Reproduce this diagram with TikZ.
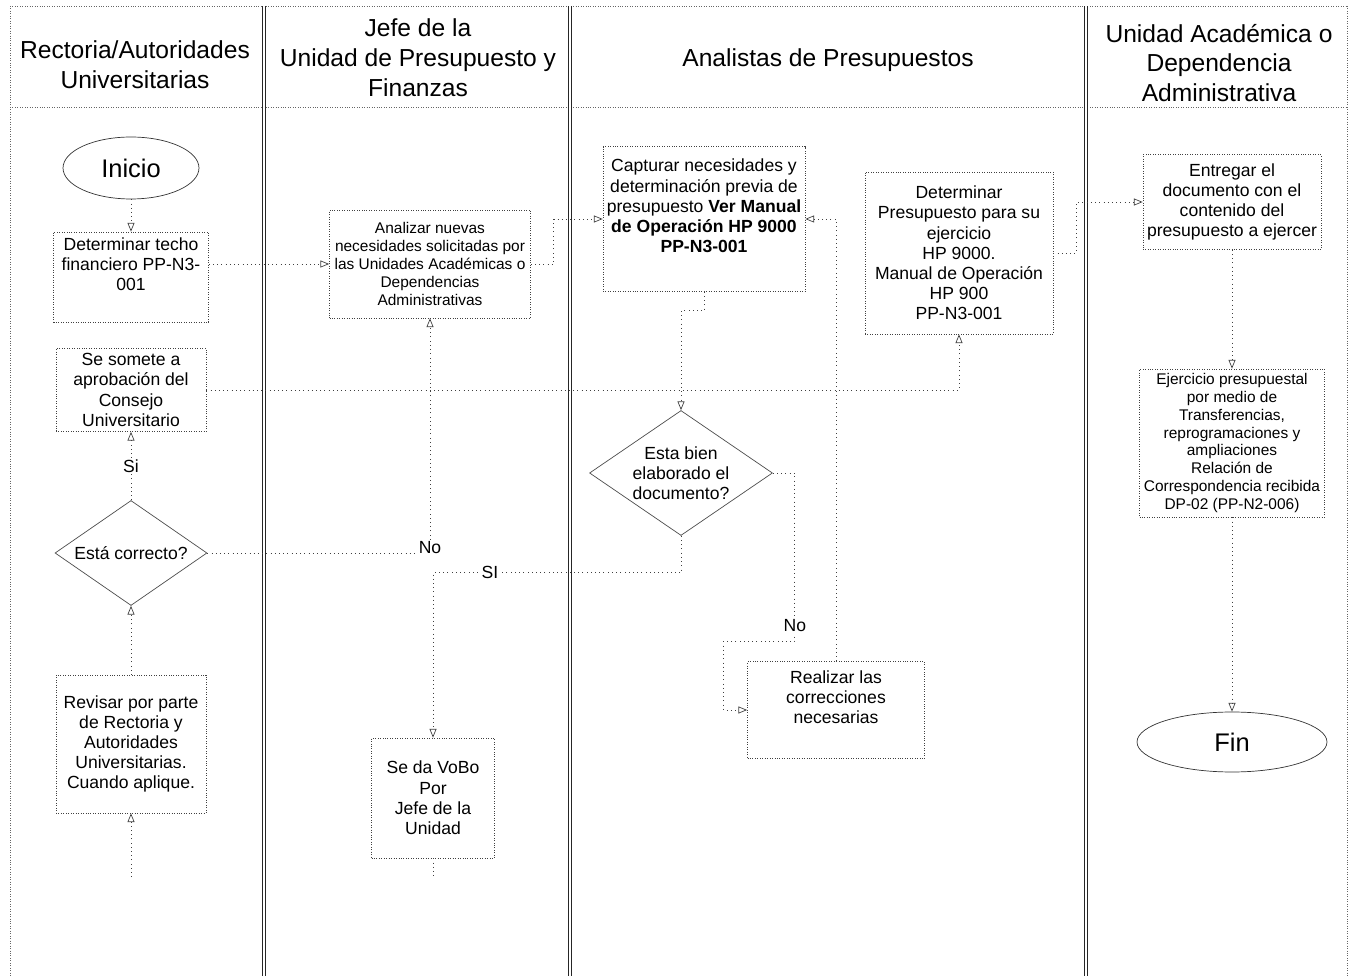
\documentclass[tikz,border=0pt]{standalone}
\usepackage{fontspec}
\setmainfont{Liberation Sans}
\usepackage{tikz}
\usetikzlibrary{shapes.geometric,arrows.meta}

\begin{document}
\begin{tikzpicture}[x=0.02cm,y=-0.02cm,
    caja/.style={draw=black!75,densely dotted,align=center,inner sep=2pt,font=\fontsize{10}{11.5}\selectfont},
    chica/.style={caja,font=\fontsize{8.8}{10.2}\selectfont},
    termino/.style={draw=black!80,ellipse,font=\fontsize{14.5}{17}\selectfont},
    decision/.style={draw=black!70,diamond,aspect=1.45,inner sep=0pt,align=center,font=\fontsize{10}{11.5}\selectfont},
    flecha/.style={draw=black!75,dotted,-{Triangle[open,length=5pt,width=4pt]}},
    linea/.style={draw=black!75,dotted},
    etiq/.style={fill=white,inner sep=1pt,font=\fontsize{10}{12}\selectfont},
    carril/.style={draw=black!85,double=white,double distance=0.6pt,line width=0.6pt},
    borde/.style={draw=black!60,densely dotted},
    titulo/.style={align=center,font=\fontsize{14}{17}\selectfont}]
  \useasboundingbox (0,0) rectangle (1357,976);

  \draw[borde] (10,6) -- (1347,6);
  \draw[borde] (10,107) -- (1347,107);
  \draw[borde] (10,6) -- (10,976);
  \draw[borde] (1347,6) -- (1347,976);
  \foreach \x in {264,570,1086}
    \draw[carril] (\x,6) -- (\x,976);

  \node[titulo] (tRect) at (135,65) {Rectoria/Autoridades\\Universitarias};
  \node[titulo] (tJefe) at (418,58) {Jefe de la\\Unidad de Presupuesto y\\Finanzas};
  \node[titulo] (tAnal) at (828,60) {Analistas de Presupuestos};
  \node[titulo] (tUnid) at (1219,63) {Unidad Académica o\\Dependencia\\Administrativa};

  \node[termino,minimum width=2.72cm,minimum height=1.24cm] (inicio) at (131,168) {Inicio};
  \node[caja,minimum width=3.1cm,minimum height=1.8cm] (techo) at (131,277) {Determinar techo\\financiero PP-N3-\\001\\\strut};
  \node[caja,minimum width=3cm,minimum height=1.66cm] (somete) at (131,390) {Se somete a\\aprobación del\\Consejo\\Universitario};
  \node[decision,minimum width=3.04cm,minimum height=2.1cm] (correcto) at (131,553) {Está correcto?};
  \node[caja,minimum width=3cm,minimum height=2.76cm] (revisar) at (131,744) {Revisar por parte\\de Rectoria y\\Autoridades\\Universitarias.\\Cuando aplique.};
  \coordinate (entradaA) at (131,877);

  \node[chica,minimum width=4.02cm,minimum height=2.16cm] (analizar) at (430,264) {Analizar nuevas\\necesidades solicitadas por\\las Unidades Académicas o\\Dependencias\\Administrativas};
  \node[caja,minimum width=2.46cm,minimum height=2.4cm] (vobo) at (433,798) {Se da VoBo\\Por\\Jefe de la\\Unidad};
  \coordinate (salidaB) at (433,876);

  \node[caja,minimum width=4.04cm,minimum height=2.9cm] (capturar) at (704,219) {Capturar necesidades y\\determinación previa de\\presupuesto \textbf{Ver Manual}\\\textbf{de Operación HP 9000}\\\textbf{PP-N3-001}\\\strut};
  \node[caja,minimum width=3.76cm,minimum height=3.24cm] (detpres) at (959,253) {Determinar\\Presupuesto para su\\ejercicio\\HP 9000.\\Manual de Operación\\HP 900\\PP-N3-001};
  \node[decision,minimum width=3.66cm,minimum height=2.5cm] (bien) at (681,473) {Esta bien\\elaborado el\\documento?};
  \node[caja,minimum width=3.54cm,minimum height=1.94cm] (realizar) at (836,710) {Realizar las\\correcciones\\necesarias\\\strut};

  \node[caja,minimum width=3.56cm,minimum height=1.9cm] (entregar) at (1232,202) {Entregar el\\documento con el\\contenido del\\presupuesto a ejercer};
  \node[chica,minimum width=3.7cm,minimum height=2.96cm] (ejercicio) at (1232,443) {Ejercicio presupuestal\\por medio de\\Transferencias,\\reprogramaciones y\\ampliaciones\\Relación de\\Correspondencia recibida\\DP-02 (PP-N2-006)};
  \node[termino,minimum width=3.8cm,minimum height=1.2cm] (fin) at (1232,742) {Fin};

  \draw[flecha] (inicio) -- (techo);
  \draw[flecha] (analizar.west -| techo.east) -- (analizar.west);
  \draw[flecha] (analizar.east) -- ++(23,0) |- (capturar.west);
  \draw[flecha] (somete.east) -| (detpres.south);
  \draw[flecha] (revisar) -- (correcto);
  \draw[flecha] (correcto) -- node[etiq]{Si} (somete);
  \draw[flecha] (correcto.east) -| node[etiq,yshift=3pt]{No} (analizar.south);
  \draw[flecha] (capturar.south) -- ++(0,19) -| (bien.north);
  \draw[flecha] (bien.south) -- ++(0,37) -| node[etiq,pos=0.385]{SI} (vobo.north);
  \draw[flecha] (bien.east) -- ++(22,0) -- ++(0,168) node[etiq,pos=0.91]{No} -- ++(-71,0) |- (realizar.west);
  \draw[flecha] (realizar.north) |- (capturar.east);
  \draw[flecha] (detpres.east) -- ++(23,0) |- (entregar.west);
  \draw[flecha] (entregar) -- (ejercicio);
  \draw[flecha] (ejercicio) -- (fin);
  \draw[flecha] (entradaA) -- (revisar.south);
  \draw[linea] (vobo.south) -- (salidaB);
\end{tikzpicture}
\end{document}
